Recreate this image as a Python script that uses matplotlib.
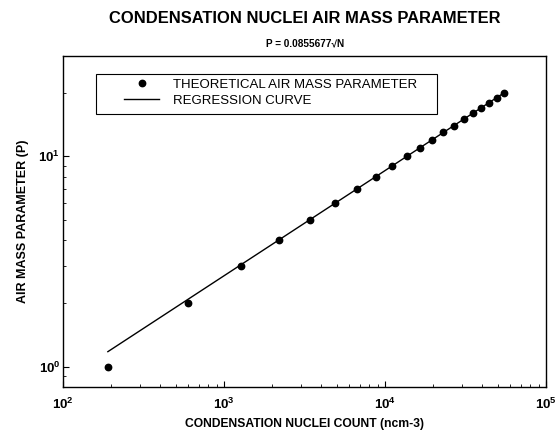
import numpy as np
import matplotlib
matplotlib.use('Agg')
import matplotlib.pyplot as plt
from matplotlib.patches import Rectangle

plt.rcParams['font.family'] = ['Liberation Sans', 'DejaVu Sans']
plt.rcParams['mathtext.fontset'] = 'custom'
plt.rcParams['mathtext.bf'] = 'Liberation Sans:bold'
plt.rcParams['mathtext.rm'] = 'Liberation Sans'

# condensation nuclei count (ncm-3) vs air mass parameter P
nuclei = [190, 600, 1270, 2190, 3410, 4920, 6690, 8740, 11060, 13660,
          16520, 19670, 23080, 26770, 30730, 34960, 39470, 44250, 49300, 54630]
param = [1, 2, 3, 4, 5, 6, 7, 8, 9, 10,
         11, 12, 13, 14, 15, 16, 17, 18, 19, 20]

coef = 0.0855677           # P = coef * sqrt(N)
n_fit = np.geomspace(190, 54630, 50)
p_fit = coef * np.sqrt(n_fit)

x_ticks = [1e2, 1e3, 1e4, 1e5]
x_labels = [r'$\mathbf{10^{2}}$', r'$\mathbf{10^{3}}$', r'$\mathbf{10^{4}}$', r'$\mathbf{10^{5}}$']
y_ticks = [1, 10]
y_labels = [r'$\mathbf{10^{0}}$', r'$\mathbf{10^{1}}$']

fig = plt.figure(figsize=(5.55, 4.34), dpi=100)
ax = fig.add_axes([0.1135, 0.108, 0.8703, 0.763])

ax.plot(nuclei, param, 'o', color='black', markersize=4.6,
        label='THEORETICAL AIR MASS PARAMETER')
ax.plot(n_fit, p_fit, '-', color='black', linewidth=1.0,
        label='REGRESSION CURVE')

ax.set_xscale('log')
ax.set_yscale('log')
ax.set_xlim(1e2, 1e5)
ax.set_ylim(0.8, 30)

ax.set_xticks(x_ticks)
ax.set_xticklabels(x_labels, fontsize=9.5)
ax.set_yticks(y_ticks)
ax.set_yticklabels(y_labels, fontsize=9.5)
ax.tick_params(which='both', direction='in', top=False, right=False)
ax.tick_params(which='major', length=4.5, width=0.8)
ax.tick_params(which='minor', length=2.5, width=0.6)
ax.tick_params(axis='x', which='major', pad=7)
ax.tick_params(axis='y', which='major', pad=2)
for s in ax.spines.values():
    s.set_linewidth(1.0)

ax.set_xlabel('CONDENSATION NUCLEI COUNT (ncm-3)', fontsize=8.7,
              fontweight='bold', labelpad=4)
ax.set_ylabel('AIR MASS PARAMETER (P)', fontsize=9,
              fontweight='bold', labelpad=7)

# legend box drawn separately so the entries sit with a wide left margin
ax.add_patch(Rectangle((0.0683, 0.825), 0.706, 0.121, transform=ax.transAxes,
                       fill=False, edgecolor='black', linewidth=0.8, zorder=4))
leg = ax.legend(loc='upper left', bbox_to_anchor=(0.126, 0.932),
                fontsize=9.5, frameon=False, borderpad=0, borderaxespad=0,
                handlelength=2.7, handletextpad=1.0, labelspacing=0.3)

fig.text(0.549, 0.958, 'CONDENSATION NUCLEI AIR MASS PARAMETER',
         ha='center', va='center', fontsize=11.9, fontweight='bold')
fig.text(0.549, 0.899, 'P = 0.0855677\u221aN', ha='center', va='center',
         fontsize=7.2, fontweight='bold')

fig.savefig('out.png', dpi=100)
